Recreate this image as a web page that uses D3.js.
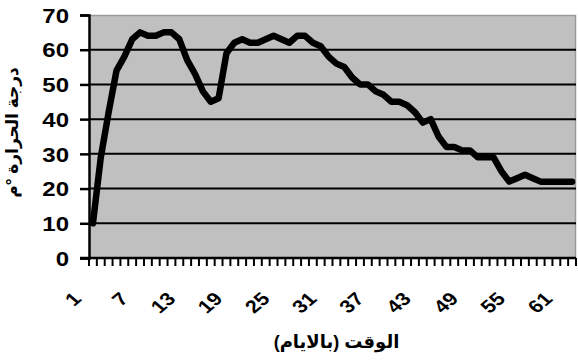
<!DOCTYPE html>
<html>
<head>
<meta charset="utf-8">
<script src="https://cdn.jsdelivr.net/npm/d3@7"></script>
<style>
  html, body { margin: 0; padding: 0; background: #fff; }
  svg { display: block; }
  text { font-family: "Liberation Sans", Arial, "DejaVu Sans", sans-serif; font-weight: bold; fill: #000; }
</style>
</head>
<body>
<svg id="chart" width="578" height="360"></svg>
<script>
// Days 1..62
const days = d3.range(1, 63);
// Temperature reading for each day
const temperature = [
  10, 29, 42, 54, 58, 63, 65, 64, 64, 65,
  65, 63, 57, 53, 48, 45, 46, 59, 62, 63,
  62, 62, 63, 64, 63, 62, 64, 64, 62, 61,
  58, 56, 55, 52, 50, 50, 48, 47, 45, 45,
  44, 42, 39, 40, 35, 32, 32, 31, 31, 29,
  29, 29, 25, 22, 23, 24, 23, 22, 22, 22,
  22, 22
];
const xTickDays = [1, 7, 13, 19, 25, 31, 37, 43, 49, 55, 61];
const yTicks = [0, 10, 20, 30, 40, 50, 60, 70];
const yTitle = "درجة الحرارة °م";
const xTitle = "الوقت (بالايام)";

const svg = d3.select("#chart");
const plot = { left: 89, right: 576, top: 15, bottom: 258 };
// the whole chart is drawn slightly wide; glyphs follow the same stretch
const stretch = 1.2;

const x = d3.scaleBand().domain(days).range([plot.left, plot.right]).padding(0);
const y = d3.scaleLinear().domain([0, 70]).range([plot.bottom, plot.top]);

// plot area background
svg.append("rect")
  .attr("x", plot.left).attr("y", plot.top)
  .attr("width", plot.right - plot.left).attr("height", plot.bottom - plot.top)
  .attr("fill", "#c0c0c0");

// top and right border
svg.append("path")
  .attr("d", `M${plot.left},${plot.top + 0.5}H${plot.right - 0.5}V${plot.bottom}`)
  .attr("fill", "none").attr("stroke", "#9a9a9a").attr("stroke-width", 1.5);

// horizontal gridlines
svg.append("g").selectAll("line")
  .data(yTicks.filter(t => t > 0 && t < 70))
  .join("line")
  .attr("x1", plot.left).attr("x2", plot.right)
  .attr("y1", d => y(d)).attr("y2", d => y(d))
  .attr("stroke", "#000").attr("stroke-width", 2);

// y axis
const yAxis = svg.append("g")
  .attr("transform", `translate(${plot.left},0)`)
  .call(d3.axisLeft(y).tickValues(yTicks).tickSize(9).tickPadding(10));
yAxis.select(".domain").attr("stroke", "#000").attr("stroke-width", 2.5);
yAxis.selectAll(".tick line").attr("stroke", "#000").attr("stroke-width", 2.5);
yAxis.selectAll(".tick text")
  .style("font-size", "20px")
  .attr("fill", "#000")
  .attr("x", -20 / stretch)
  .attr("transform", `scale(${stretch},1)`)
  .attr("dy", "0.36em");

// x axis: ticks sit between categories
const xAxisG = svg.append("g").attr("transform", `translate(0,${plot.bottom})`);
xAxisG.append("line")
  .attr("x1", plot.left - 9).attr("x2", plot.right)
  .attr("stroke", "#000").attr("stroke-width", 2.5);
const boundaries = days.map(d => x(d)).concat([x(days[days.length - 1]) + x.bandwidth()]);
xAxisG.selectAll("line.tk")
  .data(boundaries)
  .join("line").attr("class", "tk")
  .attr("x1", d => d).attr("x2", d => d)
  .attr("y1", 0).attr("y2", 8)
  .attr("stroke", "#000").attr("stroke-width", 2);

// day labels, slanted 45 degrees
xTickDays.forEach(d => {
  const tx = x(d) + x.bandwidth() / 2 - 10.5;
  svg.append("text")
    .attr("transform", `translate(${tx},300) scale(${stretch},1) rotate(-45)`)
    .attr("text-anchor", "end")
    .style("font-size", "18px")
    .text(String(d));
});

// temperature line
const line = d3.line()
  .x((d, i) => x(days[i]) + x.bandwidth() / 2)
  .y(d => y(d));
svg.append("path")
  .datum(temperature)
  .attr("d", line)
  .attr("fill", "none")
  .attr("stroke", "#000")
  .attr("stroke-width", 6.5)
  .attr("stroke-linejoin", "round")
  .attr("stroke-linecap", "round");

// axis titles
svg.append("text")
  .attr("transform", `translate(18,${(plot.top + plot.bottom) / 2 - 4}) rotate(-90)`)
  .attr("text-anchor", "middle")
  .attr("direction", "rtl")
  .style("font-size", "17px")
  .text(yTitle);

svg.append("text")
  .attr("x", (plot.left + plot.right) / 2 + 4)
  .attr("y", 348)
  .attr("text-anchor", "middle")
  .attr("direction", "rtl")
  .style("font-size", "18px")
  .text(xTitle);
</script>
</body>
</html>
